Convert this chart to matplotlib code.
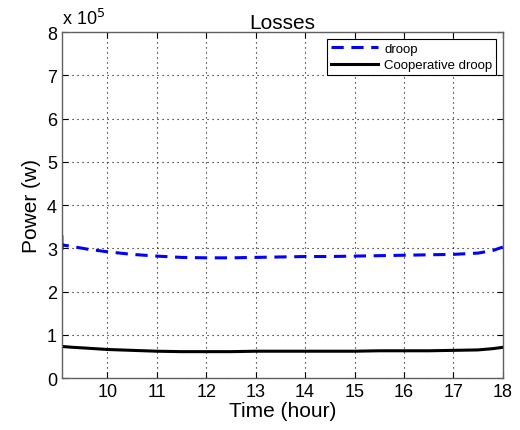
import matplotlib
matplotlib.use("Agg")
import matplotlib.pyplot as plt

plt.rcParams['font.family'] = ['Liberation Sans', 'DejaVu Sans']

# time (hour) and losses (x 1e5 W)
hours = [9.08, 9.08, 9.08, 9.3, 9.6, 10, 10.5, 11, 11.5, 12, 12.5, 13, 13.5, 14,
         14.5, 15, 15.5, 16, 16.5, 17, 17.5, 17.8, 18]
droop = [3.30, 2.90, 3.08, 3.04, 2.98, 2.92, 2.86, 2.82, 2.79, 2.78, 2.78, 2.79, 2.80, 2.81,
         2.81, 2.82, 2.83, 2.84, 2.85, 2.86, 2.89, 2.95, 3.03]
coop = [0.73, 0.73, 0.73, 0.71, 0.69, 0.66, 0.64, 0.62, 0.61, 0.61, 0.61, 0.62, 0.62, 0.62,
        0.62, 0.62, 0.63, 0.63, 0.63, 0.64, 0.65, 0.68, 0.71]

fig = plt.figure(figsize=(5.2, 4.31), dpi=100)
ax = fig.add_axes([0.119, 0.1206, 0.848, 0.8025])

ax.plot(hours, droop, '--', color='#0000ff', lw=2.2, dashes=(4, 2.5), label='droop')
ax.plot(hours, coop, '-', color='black', lw=2.2, label='Cooperative droop')

ax.set_xlim(9.08, 18)
ax.set_ylim(0, 8)
ax.set_xticks(range(10, 19))
ax.set_yticks(range(0, 9))
ax.grid(True, color='black', linestyle=(0, (1, 3.5)), lw=0.8)
ax.tick_params(direction='in', top=True, right=True, labelsize=13, length=4, width=0.8)
for s in ax.spines.values():
    s.set_color('#606060')
    s.set_linewidth(1.0)

ax.set_title('Losses', fontsize=15, pad=3)
ax.set_xlabel('Time (hour)', fontsize=15, labelpad=1)
ax.set_ylabel('Power (w)', fontsize=15, labelpad=4)
ax.text(0.0, 1.012, r'x 10$^{5}$', transform=ax.transAxes, fontsize=13, va='bottom', ha='left')

leg = ax.legend(loc='upper right', fontsize=9.5, fancybox=False, framealpha=1,
                edgecolor='black', borderpad=0.3, handlelength=3.5, labelspacing=0.3,
                borderaxespad=0.5, handletextpad=0.5)
leg.get_frame().set_linewidth(0.8)

fig.savefig('out.png', dpi=100)
